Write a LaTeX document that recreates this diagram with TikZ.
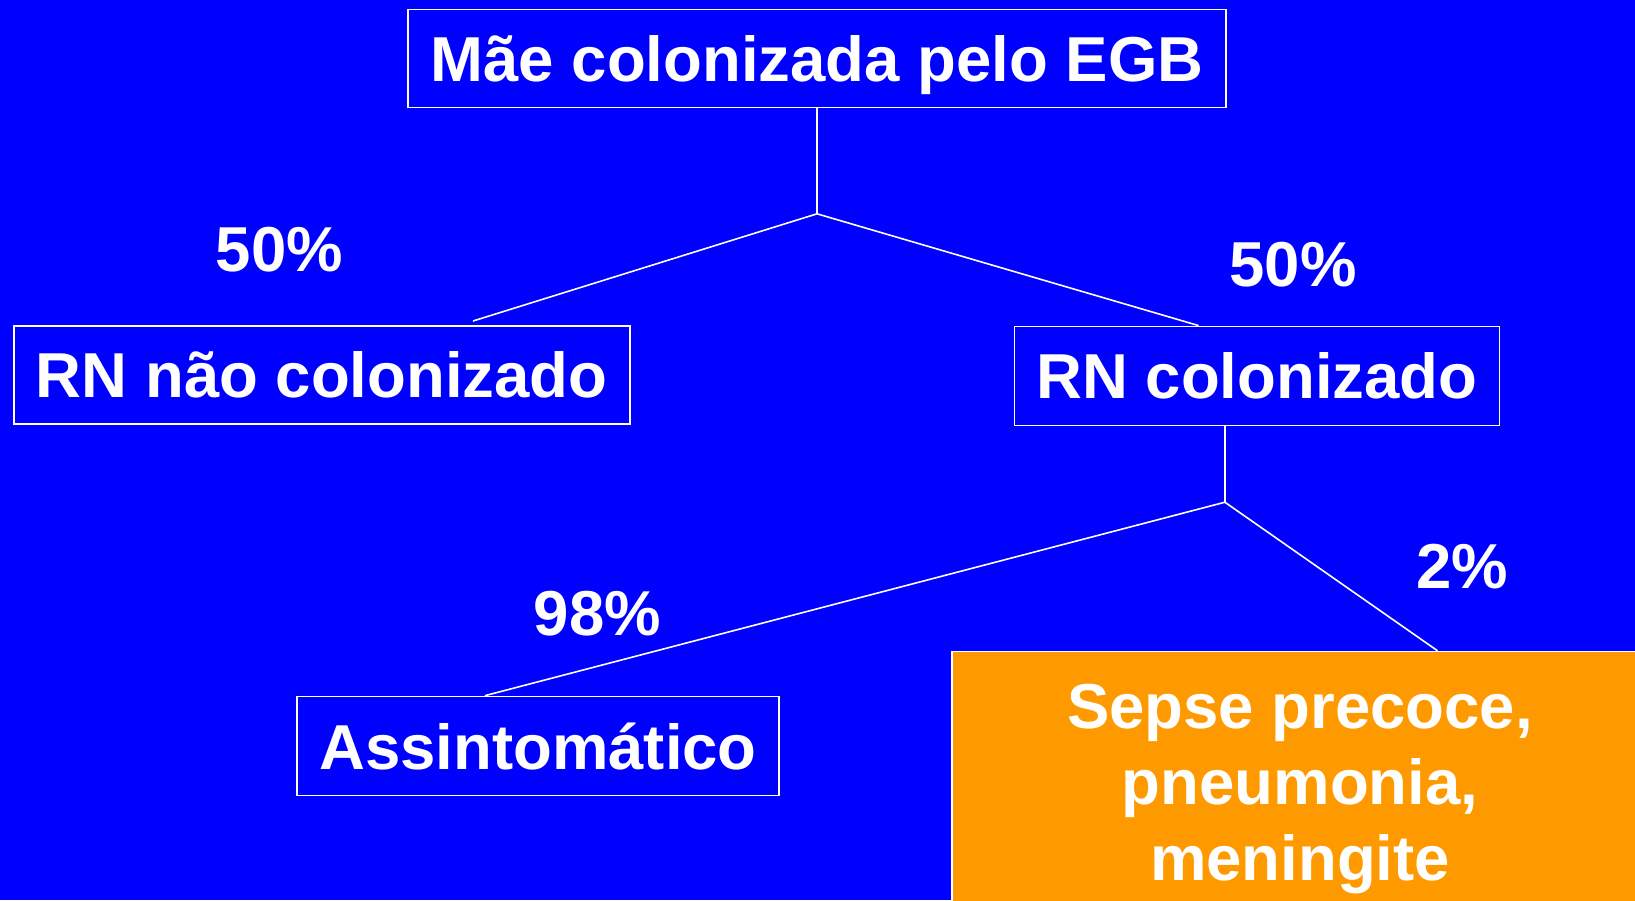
\documentclass[tikz,border=0pt]{standalone}
\usepackage{fontspec}
\setmainfont{Liberation Sans}
\usetikzlibrary{calc}
\definecolor{bgblue}{HTML}{0000FF}
\definecolor{orangebox}{HTML}{FF9900}
\begin{document}
\begin{tikzpicture}[x=1pt,y=-1pt,
  every node/.style={text=white,font=\fontsize{63.5}{76.2}\selectfont\bfseries},
  box/.style={draw=white,line width=1.6pt,inner sep=0pt,align=center,text depth=0pt},
  sepbox/.style={draw=white,line width=1.6pt,inner sep=0pt,align=center,fill=orangebox},
  link/.style={draw=white,line width=1.6pt},
  pct/.style={anchor=base,inner sep=0pt}]
\fill[bgblue] (0,0) rectangle (1635,900);
\useasboundingbox (0,0) rectangle (1635,900);

\node[box,minimum width=818pt,minimum height=98pt] (mae) at (817,58.4) {Mãe colonizada pelo EGB};
\node[box,minimum width=616pt,minimum height=98pt] (rnn) at (321.7,374.8) {RN não colonizado};
\node[box,minimum width=485pt,minimum height=99pt] (rnc) at (1257,375.9) {RN colonizado};
\node[box,minimum width=482pt,minimum height=99pt] (ass) at (538,746) {Assintomático};
\node[sepbox,minimum width=696pt,minimum height=275pt] (sep) at (1300,789) {Sepse precoce,\\pneumonia,\\meningite};

\coordinate (j1) at (817,213.8);
\coordinate (j2) at ($(rnc.south west)!0.434!(rnc.south east)+(0,76)$);
\coordinate (e1) at ($(rnn.north west)!0.745!(rnn.north east)+(0,-4)$);

\draw[link] (mae.south) -- (j1);
\draw[link] (j1) -- (e1);
\draw[link] (j1) -- ($(rnc.north west)!0.38!(rnc.north east)$);
\draw[link] ($(rnc.south west)!0.434!(rnc.south east)$) -- (j2);
\draw[link] (j2) -- ($(ass.north west)!0.39!(ass.north east)$);
\draw[link] (j2) -- ($(sep.north west)!0.697!(sep.north east)$);

\node[pct] (p1) at (279.4,271.7) {50\%};
\node[pct] (p2) at (1293,286.7) {50\%};
\node[pct] (p3) at (597.5,635) {98\%};
\node[pct] (p4) at (1462,588.3) {2\%};
\end{tikzpicture}
\end{document}
